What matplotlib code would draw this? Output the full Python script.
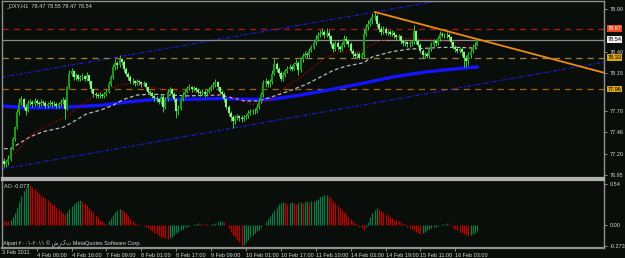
import matplotlib
matplotlib.use("Agg")
import matplotlib.pyplot as plt
import matplotlib.transforms as mtransforms
import numpy as np

# === Data (_DXY, H1) ===
closes = [
    77.08, 77.10, 77.14, 77.26, 77.37, 77.51, 77.69, 77.80, 77.84, 77.75,
    77.70, 77.80, 77.81, 77.78, 77.82, 77.80, 77.78, 77.81, 77.80, 77.76,
    77.78, 77.80, 77.78, 77.79, 77.76, 77.78, 77.81, 77.83, 77.73, 77.98,
    78.14, 78.17, 78.10, 78.12, 78.08, 78.10, 78.11, 78.08, 78.12, 78.05,
    77.96, 77.90, 77.89, 77.88, 77.89, 77.88, 77.90, 77.93, 78.02, 78.10,
    78.22, 78.27, 78.24, 78.31, 78.28, 78.20, 78.14, 78.10, 78.06, 78.05,
    78.03, 78.05, 78.04, 78.02, 78.03, 77.98, 77.93, 77.91, 77.88, 77.85,
    77.84, 77.81, 77.87, 77.75, 77.84, 77.93, 77.96, 77.90, 77.84, 77.70,
    77.73, 77.84, 77.89, 77.93, 77.97, 77.98, 77.96, 77.97, 77.95, 77.93,
    77.91, 77.93, 77.90, 77.93, 77.96, 77.98, 78.01, 78.04, 77.98, 77.93,
    77.90, 77.84, 77.75, 77.68, 77.63, 77.58, 77.63, 77.64, 77.62, 77.61,
    77.63, 77.64, 77.68, 77.69, 77.70, 77.70, 77.75, 77.82, 77.89, 78.03,
    78.05, 78.02, 78.04, 78.14, 78.25, 78.20, 78.15, 78.08, 78.12, 78.17,
    78.20, 78.22, 78.20, 78.25, 78.27, 78.18, 78.31, 78.35, 78.37, 78.36,
    78.41, 78.45, 78.50, 78.55, 78.59, 78.61, 78.63, 78.59, 78.62, 78.58,
    78.49, 78.43, 78.50, 78.45, 78.43, 78.48, 78.55, 78.52, 78.49, 78.41,
    78.37, 78.35, 78.37, 78.33, 78.36, 78.61, 78.69, 78.73, 78.76, 78.81,
    78.82, 78.72, 78.67, 78.63, 78.67, 78.62, 78.63, 78.61, 78.62, 78.59,
    78.57, 78.58, 78.52, 78.50, 78.51, 78.49, 78.50, 78.51, 78.64, 78.52,
    78.48, 78.41, 78.36, 78.37, 78.35, 78.43, 78.48, 78.52, 78.50, 78.55,
    78.61, 78.60, 78.59, 78.60, 78.57, 78.51, 78.46, 78.43, 78.41, 78.43,
    78.39, 78.33, 78.29, 78.36, 78.41, 78.46, 78.47, 78.54,
]
highs = [
    77.15, 77.13, 77.18, 77.28, 77.40, 77.53, 77.72, 77.85, 77.88, 77.86,
    77.78, 77.83, 77.84, 77.83, 77.85, 77.84, 77.82, 77.84, 77.83, 77.82,
    77.81, 77.83, 77.82, 77.82, 77.81, 77.81, 77.84, 77.87, 77.85, 78.00,
    78.18, 78.21, 78.19, 78.15, 78.14, 78.13, 78.15, 78.13, 78.16, 78.13,
    78.06, 77.97, 77.92, 77.91, 77.92, 77.91, 77.93, 77.96, 78.05, 78.13,
    78.26, 78.31, 78.29, 78.36, 78.33, 78.30, 78.22, 78.16, 78.12, 78.09,
    78.07, 78.08, 78.07, 78.06, 78.06, 78.04, 77.99, 77.95, 77.93, 77.90,
    77.88, 77.86, 77.90, 77.89, 77.87, 77.96, 77.99, 77.97, 77.92, 77.86,
    77.77, 77.87, 77.92, 77.96, 78.00, 78.02, 78.00, 78.00, 77.99, 77.97,
    77.95, 77.96, 77.95, 77.96, 77.99, 78.01, 78.04, 78.08, 78.06, 77.99,
    77.95, 77.92, 77.86, 77.77, 77.70, 77.66, 77.66, 77.67, 77.66, 77.65,
    77.66, 77.67, 77.71, 77.72, 77.73, 77.74, 77.78, 77.85, 77.93, 78.07,
    78.09, 78.07, 78.08, 78.18, 78.31, 78.28, 78.22, 78.17, 78.16, 78.20,
    78.23, 78.25, 78.24, 78.28, 78.31, 78.29, 78.34, 78.38, 78.41, 78.40,
    78.44, 78.48, 78.53, 78.59, 78.63, 78.66, 78.68, 78.66, 78.68, 78.65,
    78.60, 78.51, 78.53, 78.52, 78.48, 78.51, 78.60, 78.58, 78.55, 78.51,
    78.43, 78.40, 78.40, 78.39, 78.39, 78.67, 78.73, 78.77, 78.80, 78.85,
    78.87, 78.84, 78.75, 78.70, 78.70, 78.69, 78.66, 78.65, 78.65, 78.64,
    78.61, 78.61, 78.59, 78.54, 78.54, 78.53, 78.53, 78.54, 78.71, 78.66,
    78.55, 78.50, 78.43, 78.40, 78.40, 78.46, 78.51, 78.55, 78.55, 78.58,
    78.64, 78.63, 78.62, 78.63, 78.62, 78.58, 78.53, 78.48, 78.45, 78.46,
    78.45, 78.41, 78.36, 78.39, 78.44, 78.49, 78.51, 78.55,
]
lows = [
    77.04, 77.05, 77.07, 77.12, 77.24, 77.35, 77.49, 77.66, 77.77, 77.72,
    77.66, 77.69, 77.77, 77.75, 77.76, 77.77, 77.75, 77.76, 77.77, 77.74,
    77.74, 77.76, 77.75, 77.76, 77.74, 77.74, 77.76, 77.79, 77.61, 77.71,
    77.96, 78.11, 78.07, 78.07, 78.05, 78.06, 78.07, 78.05, 78.06, 78.02,
    77.93, 77.87, 77.86, 77.86, 77.86, 77.85, 77.86, 77.88, 77.91, 78.00,
    78.08, 78.19, 78.20, 78.22, 78.24, 78.16, 78.11, 78.07, 78.03, 78.02,
    78.00, 78.01, 78.01, 77.99, 78.00, 77.95, 77.90, 77.88, 77.85, 77.82,
    77.81, 77.78, 77.79, 77.69, 77.72, 77.82, 77.91, 77.87, 77.81, 77.62,
    77.66, 77.71, 77.82, 77.87, 77.91, 77.95, 77.93, 77.94, 77.92, 77.90,
    77.88, 77.89, 77.87, 77.88, 77.91, 77.94, 77.96, 77.99, 77.95, 77.90,
    77.87, 77.81, 77.72, 77.64, 77.58, 77.50, 77.55, 77.60, 77.59, 77.57,
    77.59, 77.61, 77.62, 77.66, 77.67, 77.67, 77.68, 77.73, 77.80, 77.87,
    77.99, 77.98, 77.99, 78.02, 78.12, 78.16, 78.11, 78.05, 78.06, 78.10,
    78.15, 78.18, 78.17, 78.18, 78.23, 78.12, 78.16, 78.28, 78.33, 78.33,
    78.34, 78.39, 78.43, 78.48, 78.53, 78.57, 78.59, 78.56, 78.57, 78.55,
    78.45, 78.39, 78.41, 78.42, 78.40, 78.41, 78.46, 78.49, 78.46, 78.38,
    78.34, 78.32, 78.33, 78.31, 78.31, 78.34, 78.58, 78.66, 78.70, 78.73,
    78.77, 78.69, 78.63, 78.60, 78.61, 78.59, 78.59, 78.58, 78.58, 78.56,
    78.54, 78.54, 78.49, 78.47, 78.47, 78.46, 78.46, 78.47, 78.49, 78.49,
    78.45, 78.38, 78.32, 78.32, 78.32, 78.33, 78.41, 78.46, 78.47, 78.48,
    78.53, 78.57, 78.56, 78.56, 78.54, 78.48, 78.43, 78.40, 78.38, 78.38,
    78.35, 78.22, 78.22, 78.24, 78.33, 78.38, 78.43, 78.47,
]
first_open = 77.12

# moving averages (bar index, price)
blue_idx = [0, 10, 20, 30, 45, 57, 70, 85, 100, 110, 123, 136, 147, 155, 165, 178, 193, 208, 217]
blue_val = [77.76, 77.74, 77.74, 77.75, 77.77, 77.81, 77.84, 77.84, 77.85, 77.84,
            77.84, 77.89, 77.94, 77.98, 78.03, 78.10, 78.16, 78.20, 78.22]
grey_idx = [0, 3, 5, 12, 18, 27, 30, 38, 44, 50, 55, 61, 68, 84, 99, 106, 110, 117,
            123, 131, 139, 145, 151, 157, 165, 169, 178, 186, 194, 201, 209, 217]
grey_val = [77.26, 77.26, 77.29, 77.40, 77.46, 77.51, 77.55, 77.67, 77.71, 77.77,
            77.84, 77.89, 77.90, 77.88, 77.89, 77.85, 77.82, 77.82, 77.87, 77.94,
            78.02, 78.10, 78.18, 78.23, 78.27, 78.34, 78.40, 78.43, 78.44, 78.45,
            78.45, 78.44]
red_idx = [0, 6, 13, 21, 29, 35, 41, 47, 55, 62, 68, 76, 84, 91, 104, 110, 114, 121,
           124, 128, 136, 142, 148, 154, 163, 172, 178, 194, 206, 214, 217]
red_val = [77.13, 77.23, 77.43, 77.55, 77.64, 77.76, 77.88, 77.96, 78.02, 78.02,
           77.98, 77.94, 77.93, 77.91, 77.87, 77.81, 77.78, 77.81, 77.87, 77.96,
           78.10, 78.22, 78.34, 78.39, 78.40, 78.52, 78.56, 78.55, 78.51, 78.47,
           78.47]

# drawn objects
chan_up = ([-0.92, 275.2], [78.10, 79.336])
chan_lo = ([-0.92, 275.2], [77.02, 78.277])
trend = ([170.2, 275.2], [78.865, 78.152])
hlines = [78.67, 78.54, 78.33, 77.96]
hline_cols = ["#b01818", "#8c8c8c", "#9a8040", "#a8600c"]
hline_styles = [(0, (5, 4)), "-", (0, (5, 4)), (0, (5, 4))]
box_labels = ["78.67", "78.54", "78.33", "77.96"]
box_face = ["#e8481c", "#f0f0f0", "#d8a418", "#d8a418"]
box_text = ["#ffffff", "#000000", "#000000", "#000000"]

price_ticks = [78.90, 78.40, 78.15, 77.70, 77.46, 77.20, 76.95]

# Awesome Oscillator
ao = [
    0.05, 0.05, 0.05, 0.06, 0.10, 0.16, 0.22, 0.30, 0.38, 0.44,
    0.49, 0.54, 0.52, 0.50, 0.47, 0.45, 0.42, 0.40, 0.37, 0.35,
    0.33, 0.30, 0.28, 0.26, 0.24, 0.21, 0.19, 0.16, 0.15, 0.17,
    0.21, 0.25, 0.28, 0.30, 0.32, 0.33, 0.31, 0.29, 0.26, 0.23,
    0.20, 0.17, 0.13, 0.10, 0.07, 0.05, 0.03, 0.02, 0.05, 0.09,
    0.13, 0.17, 0.20, 0.21, 0.20, 0.19, 0.16, 0.12, 0.08, 0.05,
    0.03, 0.01, 0.01, 0.00, -0.01, -0.02, -0.04, -0.06, -0.08, -0.10,
    -0.12, -0.14, -0.15, -0.16, -0.17, -0.18, -0.17, -0.15, -0.13, -0.11,
    -0.09, -0.07, -0.05, -0.03, -0.02, -0.01, 0.00, 0.01, 0.02, 0.03,
    0.02, 0.02, 0.01, 0.01, 0.00, 0.01, 0.02, 0.03, 0.04, 0.05,
    0.055, 0.04, 0.00, -0.04, -0.09, -0.13, -0.16, -0.19, -0.22, -0.273,
    -0.26, -0.22, -0.19, -0.16, -0.13, -0.11, -0.08, -0.06, -0.03, 0.00,
    0.04, 0.08, 0.12, 0.16, 0.20, 0.24, 0.27, 0.29, 0.30, 0.29,
    0.28, 0.29, 0.30, 0.29, 0.28, 0.29, 0.30, 0.29, 0.30, 0.31,
    0.30, 0.31, 0.32, 0.33, 0.34, 0.37, 0.38, 0.39, 0.40, 0.38,
    0.35, 0.32, 0.29, 0.26, 0.23, 0.20, 0.17, 0.14, 0.11, 0.08,
    0.05, 0.03, 0.01, -0.02, -0.04, -0.06, -0.02, 0.04, 0.10, 0.16,
    0.20, 0.22, 0.21, 0.19, 0.17, 0.15, 0.13, 0.11, 0.09, 0.07,
    0.06, 0.05, 0.04, 0.02, 0.01, -0.02, -0.04, -0.05, -0.07, -0.09,
    -0.11, -0.12, -0.11, -0.09, -0.07, -0.05, -0.04, -0.03, -0.02, -0.01,
    0.00, 0.01, 0.02, 0.03, 0.02, 0.00, -0.03, -0.05, -0.07, -0.09,
    -0.11, -0.12, -0.13, -0.14, -0.135, -0.12, -0.10, -0.077,
]
ao_ticks = [0.54, 0.0, -0.273]
ao_ticklabels = ["0.54", "0.00", "-0.273"]

time_idx = [15, 31, 47, 63, 79, 95, 111, 127, 143, 159, 175, 191, 207]
time_labels = ["4 Feb 00:00", "4 Feb 16:00", "7 Feb 09:00", "8 Feb 01:00",
               "8 Feb 17:00", "9 Feb 09:00", "10 Feb 01:00", "10 Feb 17:00",
               "11 Feb 10:00", "14 Feb 03:00", "14 Feb 19:00", "15 Feb 11:00",
               "16 Feb 03:00"]

# === Style ===
plt.rcParams["font.family"] = ["Liberation Sans Narrow", "Liberation Sans", "DejaVu Sans"]
BG = "#0a0e0a"
FG = "#d6d6d6"
FRAME = "#8f8f8f"
FS = 4.0
W, H = 625, 258

fig = plt.figure(figsize=(W / 100, H / 100), dpi=100, facecolor=BG)
ax = fig.add_axes([2 / W, 1 - 178 / H, 602 / W, 177 / H], facecolor=BG)
ax2 = fig.add_axes([2 / W, 1 - 248 / H, 602 / W, 68 / H], facecolor=BG)

n = len(closes)
idx = np.arange(n)
c = np.array(closes)
o = np.array([first_open] + closes[:-1])

# candles
ax.vlines(idx, lows, highs, color="#3ccc3c", lw=0.7, zorder=3)
up = c >= o
ax.vlines(idx[up], o[up], c[up], color="#1c961c", lw=1.5, zorder=4)
ax.vlines(idx[~up], c[~up], o[~up], color="#8cf08c", lw=1.5, zorder=4)

# moving averages
ax.plot(blue_idx, blue_val, color="#1414ff", lw=2.4, zorder=2)
ax.plot(grey_idx, grey_val, color="#b8b8b8", lw=0.9, ls=(0, (3, 2)), zorder=2)
ax.plot(red_idx, red_val, color="#b00000", lw=0.9, ls=(0, (1, 1.5)), zorder=2)

# channel + trend line
ax.plot(*chan_up, color="#1c1cd8", lw=0.9, ls=(0, (3, 1.5, 1, 1.5)), zorder=1)
ax.plot(*chan_lo, color="#1c1cd8", lw=0.9, ls=(0, (3, 1.5, 1, 1.5)), zorder=1)
ax.plot(*trend, color="#f08a10", lw=1.3, zorder=5)

for v, col, st in zip(hlines, hline_cols, hline_styles):
    ax.axhline(v, color=col, lw=0.9, ls=st, zorder=1)

ax.set_xlim(-0.92, 275.2)
ax.set_ylim(76.915, 78.995)
ax.set_xticks([])
ax.yaxis.tick_right()
ax.set_yticks(price_ticks)
ax.set_yticklabels(["%.2f" % v for v in price_ticks])
ax.tick_params(axis="y", colors=FRAME, labelcolor=FG, labelsize=FS, length=2.5, width=0.7, pad=1.5)
for s in ax.spines.values():
    s.set_color(FRAME)
    s.set_linewidth(1.0)
ax.spines["bottom"].set_linewidth(1.6)
ax.spines["bottom"].set_color("#b0b0b0")

trans = mtransforms.blended_transform_factory(ax.transAxes, ax.transData)
for v, t, fc, tc in zip(hlines, box_labels, box_face, box_text):
    ax.text(1.006, v, t, transform=trans, fontsize=FS, color=tc, va="center", ha="left",
            bbox=dict(boxstyle="square,pad=0.15", fc=fc, ec="none"), clip_on=False, zorder=6)

# AO panel
a = np.array(ao)
prev = np.concatenate([[a[0]], a[:-1]])
cols = np.where(a > prev, "#0e7a46", "#c00000")
ax2.vlines(idx, 0, a, colors=cols, lw=0.9)
ax2.set_xlim(-0.92, 275.2)
ax2.set_ylim(-0.30, 0.59)
ax2.yaxis.tick_right()
ax2.set_yticks(ao_ticks)
ax2.set_yticklabels(ao_ticklabels)
ax2.tick_params(axis="y", colors=FRAME, labelcolor=FG, labelsize=FS, length=2.5, width=0.7, pad=1.5)
ax2.set_xticks(time_idx)
ax2.set_xticklabels(time_labels)
ax2.tick_params(axis="x", colors=FRAME, labelcolor=FG, labelsize=FS, length=2.5, width=0.7, pad=1.2)
for lab in ax2.get_xticklabels():
    lab.set_horizontalalignment("left")
for s in ax2.spines.values():
    s.set_color(FRAME)
    s.set_linewidth(1.0)
ax2.spines["top"].set_linewidth(1.6)
ax2.spines["top"].set_color("#b0b0b0")
ax2.spines["bottom"].set_linewidth(1.6)

# texts
fig.text(6 / W, 1 - 6 / H, "_DXY,H1  78.47 78.55 78.47 78.54", fontsize=FS, color=FG, va="center")
fig.text(4 / W, 1 - 186 / H, "AO -0.077", fontsize=FS, color=FG, va="center")
fig.text(3 / W, 1 - 243 / H, "Alpari ۲۰۰۱-۲۰۱۱ © شرکت MetaQuotes Software Corp.",
         fontsize=FS, color=FG, va="center")
fig.text(2 / W, 1 - 253 / H, "3 Feb 2011", fontsize=FS, color=FG, va="center")

fig.savefig("out.png", dpi=100, facecolor=BG)
